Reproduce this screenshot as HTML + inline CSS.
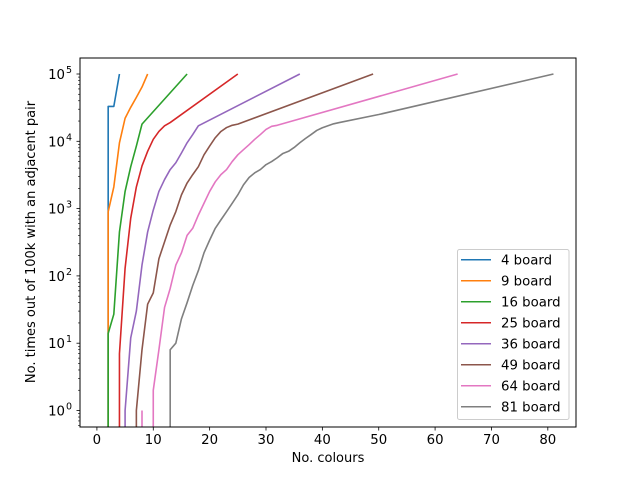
<!DOCTYPE html>
<html><head><meta charset="utf-8"><style>
html,body{margin:0;padding:0;background:#fff;width:640px;height:480px;overflow:hidden;}
svg{display:block;font-family:"DejaVu Sans","Liberation Sans",sans-serif;}
</style></head><body>
<svg id="chart" width="640" height="480" viewBox="0 0 640 480" xmlns="http://www.w3.org/2000/svg" style="overflow:hidden">
<defs><clipPath id="plotclip"><rect x="80" y="58" width="496" height="369"/></clipPath></defs>
<rect x="0" y="0" width="640" height="480" fill="#fff"/>
<g id="series" clip-path="url(#plotclip)"></g>
<rect x="80" y="58" width="496" height="369" fill="none" stroke="#000" stroke-width="1"/>
<g id="axes"></g>
<text x="328" y="462" font-size="13" text-anchor="middle">No. colours</text>
<text transform="translate(35,242) rotate(-90)" font-size="13" text-anchor="middle">No. times out of 100k with an adjacent pair</text>
<g id="legend"></g>
</svg>
<script>
const seriesNames = ["4 board","9 board","16 board","25 board","36 board","49 board","64 board","81 board"];
const colors = ["#1f77b4","#ff7f0e","#2ca02c","#d62728","#9467bd","#8c564b","#e377c2","#7f7f7f"];
const xTicks = [0,10,20,30,40,50,60,70,80];
const yTickExps = [0,1,2,3,4,5];
const x4 = [1,2,3,4];
const y4 = [0,33000,33000,100000];
const x9 = [1,2,3,4,5,6,7,8,9];
const y9 = [0,900,2100,9500,22000,32000,45000,64000,100000];
const x16 = [1,2,3,4,5,6,7,8,16];
const y16 = [0,14,27,450,1800,4200,8500,18000,100000];
const x25 = [3,4,5,6,7,8,9,10,11,12,13,25];
const y25 = [0,7,130,720,2100,4300,7100,10700,14000,17000,19000,100000];
const x36 = [4,5,6,7,8,9,10,11,12,13,14,15,16,17,18,36];
const y36 = [0,1,12,30,145,450,950,1800,2700,3800,4800,6700,9500,12600,17000,100000];
const x49 = [6,7,8,9,10,11,12,13,14,15,16,17,18,19,20,21,22,23,24,25,49];
const y49 = [0,1,8,38,56,180,320,570,900,1600,2400,3200,4200,6300,8500,11300,14000,16000,17300,18000,100000];
const x64 = [8,9,10,11,12,13,14,15,16,17,18,19,20,21,22,23,24,25,26,27,28,29,30,31,32,64];
const y64 = [1,0,2,8,34,65,145,220,400,510,800,1200,1800,2500,3200,3800,5000,6300,7500,8900,10700,12600,15000,16700,17300,100000];
const x81 = [12,13,14,15,16,17,18,19,20,21,22,23,24,25,26,27,28,29,30,31,32,33,34,35,36,37,38,39,40,41,42,43,50,81];
const y81 = [0,8,10,23,40,72,120,220,340,510,680,900,1200,1600,2250,2900,3400,3800,4500,5000,5700,6600,7100,8100,9500,11000,12600,14500,15900,17000,18200,19000,25000,100000];
const allX = [x4,x9,x16,x25,x36,x49,x64,x81];
const allY = [y4,y9,y16,y25,y36,y49,y64,y81];

const NS = "http://www.w3.org/2000/svg";
const xMin = -3, xMax = 85, left = 80, right = 576;
function xs(v){ return left + (v - xMin) / (xMax - xMin) * (right - left); }
const y0px = 410.5, decade = 67.3;
function ys(v){ return y0px - Math.log10(v) * decade; }
function mk(tag, attrs, parent){ const e = document.createElementNS(NS, tag); for (const k in attrs) e.setAttribute(k, attrs[k]); parent.appendChild(e); return e; }

const sg = document.getElementById('series');
allX.forEach((xa, i) => {
  const ya = allY[i];
  const pts = [];
  xa.forEach((x, j) => {
    if (ya[j] > 0) {
      pts.push(xs(x).toFixed(2) + ',' + ys(ya[j]).toFixed(2));
    } else {
      if (j > 0 && ya[j-1] > 0) pts.push(xs(xa[j-1]).toFixed(2) + ',440');
      if (j < xa.length - 1 && ya[j+1] > 0) pts.push(xs(xa[j+1]).toFixed(2) + ',440');
    }
  });
  const pl = mk('polyline', {points: pts.join(' '), fill: 'none', stroke: colors[i], 'stroke-width': 1.6, 'stroke-linejoin': 'round'}, sg);
  
  
});

const ax = document.getElementById('axes');
xTicks.forEach(t => {
  const x = xs(t);
  const tk = mk('line', {x1: x, x2: x, y1: 427, y2: 430.5, stroke: '#000', 'stroke-width': 0.8}, ax);
  
  
  const tx = mk('text', {x: x, y: 444, 'font-size': 13.3, 'text-anchor': 'middle'}, ax);
  tx.textContent = String(t);
  
  
});
yTickExps.forEach(e => {
  const y = y0px - e * decade;
  const tk = mk('line', {x1: 76.5, x2: 80, y1: y, y2: y, stroke: '#000', 'stroke-width': 0.8}, ax);
  
  
  const tx = mk('text', {x: 65, y: y + 5, 'font-size': 13.3, 'text-anchor': 'end'}, ax);
  tx.textContent = '10';
  
  
  const sup = mk('text', {x: 66, y: y - 1, 'font-size': 9.5, 'text-anchor': 'start'}, ax);
  sup.textContent = String(e);
  
  
});
for (let e = -1; e <= 5; e++) {
  for (let m = 2; m <= 9; m++) {
    const y = y0px - (e + Math.log10(m)) * decade;
    if (y < 58 || y > 427) continue;
    const tk = mk('line', {x1: 78, x2: 80, y1: y, y2: y, stroke: '#000', 'stroke-width': 0.6}, ax);
    
    
  }
}

const lg = document.getElementById('legend');
const box = mk('rect', {x: 457.5, y: 249.5, width: 111.5, height: 170, rx: 2, fill: '#fff', 'fill-opacity': 0.8, stroke: '#ccc', 'stroke-width': 1}, lg);


seriesNames.forEach((n, i) => {
  const y = 259.7 + i * 21;
  const g = mk('g', {}, lg);
  
  
  mk('line', {x1: 461, x2: 491, y1: y, y2: y, stroke: colors[i], 'stroke-width': 1.5}, g);
  const t = mk('text', {x: 501, y: y + 4.8, 'font-size': 13.3}, g);
  t.textContent = n;
});
</script>
</body></html>
